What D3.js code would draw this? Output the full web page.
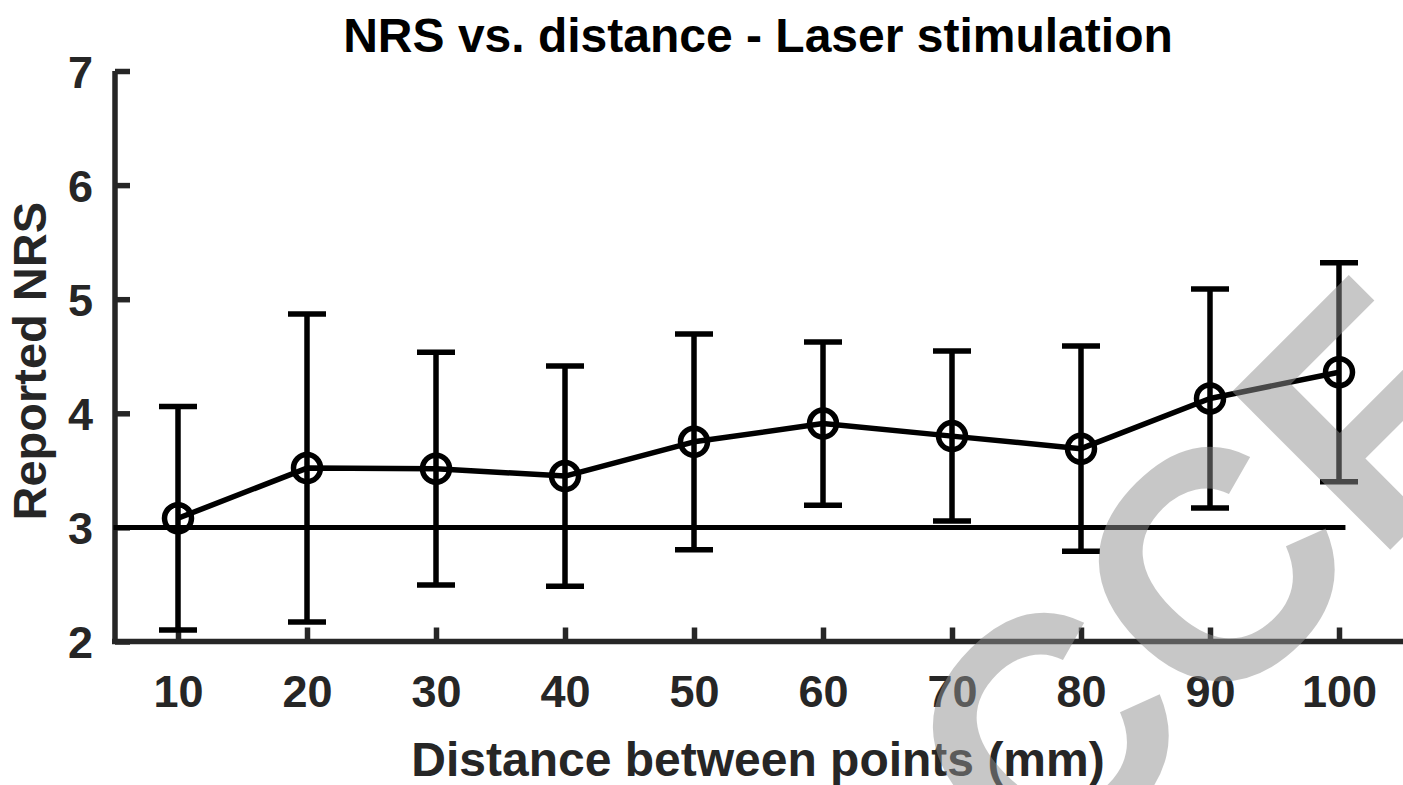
<!DOCTYPE html>
<html>
<head>
<meta charset="utf-8">
<script src="https://cdn.jsdelivr.net/npm/d3@7"></script>
<style>
  html, body { margin: 0; padding: 0; background: #fff; }
  svg { display: block; }
  text { font-family: "Liberation Sans", Arial, Helvetica, sans-serif; font-weight: bold; }
</style>
</head>
<body>
<script>
// Distances between the two stimulated points (mm)
const distances = [10, 20, 30, 40, 50, 60, 70, 80, 90, 100];
// Mean reported NRS at each distance
const meanNRS = [3.08, 3.52, 3.515, 3.45, 3.75, 3.91, 3.80, 3.69, 4.13, 4.36];
// Error-bar half-lengths
const errNRS = [0.98, 1.35, 1.02, 0.965, 0.945, 0.715, 0.745, 0.90, 0.96, 0.96];
// Axis ticks
const xTicks = [10, 20, 30, 40, 50, 60, 70, 80, 90, 100];
const yTicks = [2, 3, 4, 5, 6, 7];
// Reference level and the distance span it covers
const refLevel = 3;
const refSpan = [5, 100.5];

const W = 1403, H = 785;
const axisColor = "#262626";

const svg = d3.select("body").append("svg")
  .attr("width", W).attr("height", H);

const x = d3.scaleLinear().domain([5, 105]).range([113.5, 1403.5]);
const y = d3.scaleLinear().domain([2, 7]).range([641.5, 71]);

// Axes (ticks point inward)
const xAxis = d3.axisBottom(x).tickValues(xTicks).tickFormat(d3.format("d"))
  .tickSizeInner(-14).tickSizeOuter(0);
const yAxis = d3.axisLeft(y).tickValues(yTicks).tickFormat(d3.format("d"))
  .tickSizeInner(-15).tickSizeOuter(0);

const gx = svg.append("g").attr("transform", `translate(0,${y(2)})`).call(xAxis);
const gy = svg.append("g").attr("transform", `translate(${x(5) + 1.5},0)`).call(yAxis);

[gx, gy].forEach(g => {
  g.select(".domain").attr("stroke", axisColor).attr("stroke-width", 5.5);
  g.selectAll(".tick line").attr("stroke", axisColor).attr("stroke-width", 5.5);
  g.selectAll(".tick text")
    .attr("fill", axisColor)
    .style("font-size", "45px")
    .style("font-family", '"Liberation Sans", Arial, sans-serif')
    .style("font-weight", "bold");
});
gx.select(".domain").attr("d", `M${x(5) - 1.5},0H${x(105)}`);
gy.select(".domain").attr("d", `M0,${y(7)}V${y(2) + 2.5}`);
gx.selectAll(".tick text").attr("dy", "0.71em").attr("y", 34);
gy.selectAll(".tick text").attr("x", -22).attr("dy", "0.36em");

// Reference line at NRS = 3
svg.append("line")
  .attr("x1", x(refSpan[0])).attr("x2", x(refSpan[1]))
  .attr("y1", y(refLevel)).attr("y2", y(refLevel))
  .attr("stroke", "#000").attr("stroke-width", 5);

const pts = distances.map((d, i) => ({ d, m: meanNRS[i], e: errNRS[i] }));

// Error bars
const capHalf = 19;
const eb = svg.append("g").attr("stroke", "#000").attr("stroke-width", 5.5).attr("fill", "none");
eb.selectAll("line.v").data(pts).join("line").attr("class", "v")
  .attr("x1", p => x(p.d)).attr("x2", p => x(p.d))
  .attr("y1", p => y(p.m - p.e)).attr("y2", p => y(p.m + p.e));
eb.selectAll("line.top").data(pts).join("line").attr("class", "top")
  .attr("x1", p => x(p.d) - capHalf).attr("x2", p => x(p.d) + capHalf)
  .attr("y1", p => y(p.m + p.e)).attr("y2", p => y(p.m + p.e));
eb.selectAll("line.bot").data(pts).join("line").attr("class", "bot")
  .attr("x1", p => x(p.d) - capHalf).attr("x2", p => x(p.d) + capHalf)
  .attr("y1", p => y(p.m - p.e)).attr("y2", p => y(p.m - p.e));

// Mean line
svg.append("path")
  .datum(pts)
  .attr("fill", "none").attr("stroke", "#000").attr("stroke-width", 5.5)
  .attr("stroke-linejoin", "round")
  .attr("d", d3.line().x(p => x(p.d)).y(p => y(p.m)));

// Open circle markers
svg.append("g").selectAll("circle").data(pts).join("circle")
  .attr("cx", p => x(p.d)).attr("cy", p => y(p.m)).attr("r", 13.5)
  .attr("fill", "none").attr("stroke", "#000").attr("stroke-width", 5.5);

// Title and axis labels
svg.append("text")
  .attr("x", 758).attr("y", 52)
  .attr("text-anchor", "middle")
  .attr("fill", "#000")
  .style("font-size", "48px")
  .text("NRS vs. distance - Laser stimulation");

svg.append("text")
  .attr("x", 758).attr("y", 776)
  .attr("text-anchor", "middle")
  .attr("fill", axisColor)
  .style("font-size", "48px")
  .text("Distance between points (mm)");

svg.append("text")
  .attr("transform", `translate(46,${(y(2) + y(7)) / 2 + 5}) rotate(-90)`)
  .attr("text-anchor", "middle")
  .attr("fill", axisColor)
  .style("font-size", "47px")
  .text("Reported NRS");

// Watermark
svg.append("text")
  .attr("transform", "translate(1043,897) rotate(-45)")
  .attr("fill", "rgb(144,144,144)")
  .attr("fill-opacity", 0.5)
  .style("font-size", "325px")
  .text("CCF");
</script>
</body>
</html>
